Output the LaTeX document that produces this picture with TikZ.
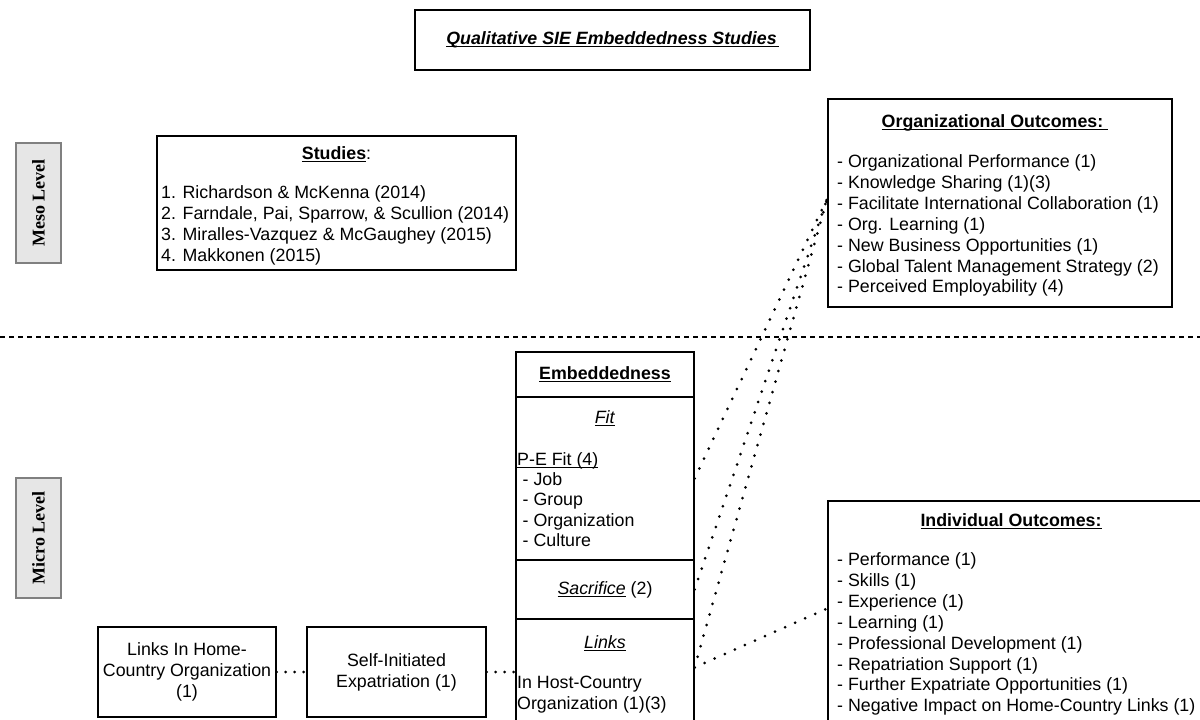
\documentclass[tikz,border=0pt]{standalone}
\usepackage{fontspec}
\setmainfont{Liberation Sans}
\newfontfamily\levelserif{Liberation Serif}
\usetikzlibrary{calc}
% underline at a fixed depth below the baseline
\newsavebox{\undlbox}
\newcommand{\undl}[1]{\sbox{\undlbox}{#1}\rlap{\rule[-2.6pt]{\wd\undlbox}{1.1pt}}\usebox{\undlbox}}
\definecolor{lvlfill}{HTML}{E6E6E6}
\definecolor{lvldraw}{HTML}{808080}
\begin{document}
\begin{tikzpicture}[x=1pt,y=-1pt,
  font=\fontsize{17.8}{20.9}\selectfont,
  box/.style={draw=black, line width=1.2pt, inner sep=0pt, rectangle},
  lvl/.style={draw=lvldraw, fill=lvlfill, line width=1.6pt, rotate=90,
    minimum width=120pt, minimum height=45pt, inner sep=0pt,
    font=\levelserif\fontsize{18}{20}\selectfont\bfseries},
  % multi-line lists: the base anchor sits on the last line
  lst/.style={anchor=base west, align=left, inner sep=0pt},
  hd/.style={anchor=base, inner sep=0pt},
  dotline/.style={line width=3pt, line cap=round, dash pattern=on 0pt off 11pt},
  shortdots/.style={dotline, dash pattern=on 0pt off 9pt},
  levelsep/.style={line width=1.1pt, dash pattern=on 5pt off 4pt}
]
\clip (0,0) rectangle (1200,720);

% heading
\node[box, minimum width=395pt, minimum height=60pt,
  font=\fontsize{17.8}{20.9}\selectfont\bfseries\itshape] (title) at (612.5,40)
  {\undl{Qualitative SIE Embeddedness Studies\hspace{2pt}}};

% level labels
\node[lvl] (meso) at (38.5,203) {Meso Level};
\node[lvl] (micro) at (38.5,538) {Micro Level};

% list of studies
\node[box, minimum width=359pt, minimum height=134pt] (studies) at (336.5,203) {};
\node[hd] (studies-hd) at (336.5,159) {\textbf{\undl{Studies}}:};
\node[lst] (studies-list) at (161,261.2) {1. Richardson \& McKenna (2014)\\
2. Farndale, Pai, Sparrow, \& Scullion (2014)\\
3. Miralles-Vazquez \& McGaughey (2015)\\
4. Makkonen (2015)};

% organizational outcomes
\node[box, minimum width=344pt, minimum height=208pt] (org) at (1000,203) {};
\node[hd] (org-hd) at (995,127) {\textbf{\undl{Organizational Outcomes:\hspace{5pt}}}};
\node[lst] (org-list) at (837,292.9) {- Organizational Performance (1)\\
- Knowledge Sharing (1)(3)\\
- Facilitate International Collaboration (1)\\
- Org. Learning (1)\\
- New Business Opportunities (1)\\
- Global Talent Management Strategy (2)\\
- Perceived Employability (4)};

% meso / micro divider
\draw[levelsep] (0,337) -- (1200,337);

% embeddedness column
\node[box, minimum width=178pt, minimum height=45pt] (emb-head) at (605,374.5)
  {\textbf{\undl{Embeddedness}}};
\node[box, minimum width=178pt, minimum height=163pt] (emb-fit) at (605,478.5) {};
\node[box, minimum width=178pt, minimum height=59pt] (emb-sac) at (605,589.5)
  {\undl{\textit{Sacrifice}} (2)};
\node[box, minimum width=178pt, minimum height=141pt] (emb-links) at (605,689.5) {};
\node[hd] (fit-hd) at (605,423) {\undl{\textit{Fit}}};
\node[lst, font=\fontsize{17.8}{20.4}\selectfont] (fit-list) at (517,546.6)
  {\undl{P-E Fit (4)}\\
\hspace*{5.5pt}- Job\\
\hspace*{5.5pt}- Group\\
\hspace*{5.5pt}- Organization\\
\hspace*{5.5pt}- Culture};
\node[hd] (links-hd) at (605,648) {\undl{\textit{Links}}};
\node[lst] (links-list) at (517,709.4) {In Host-Country\\Organization (1)(3)};

% individual outcomes
\node[box, minimum width=377pt, minimum height=239pt] (indiv) at (1016.5,620.5) {};
\node[hd] (indiv-hd) at (1011,526) {\textbf{\undl{Individual Outcomes:}}};
\node[lst] (indiv-list) at (837,711.8) {- Performance (1)\\
- Skills (1)\\
- Experience (1)\\
- Learning (1)\\
- Professional Development (1)\\
- Repatriation Support (1)\\
- Further Expatriate Opportunities (1)\\
- Negative Impact on Home-Country Links (1)};

% home-country links and self-initiated expatriation
\node[box, minimum width=178pt, minimum height=90pt, align=center] (home) at (187,672)
  {Links In Home-\\Country Organization\\(1)};
\node[box, minimum width=179pt, minimum height=90pt, align=center] (self) at (396.5,672)
  {Self-Initiated\\Expatriation (1)};

% connectors
\coordinate (links-pt) at ($(emb-links.north east)+(0,49)$);
\coordinate (org-pt) at ($(org.west)+(0,-5)$);
\coordinate (ind-pt) at ($(indiv.north west)+(0,108)$);
\draw[shortdots] (home.east) -- (self.west);
\draw[shortdots] (self.east) -- (self.east -| emb-links.west);
\draw[dotline] (emb-fit.east) -- (org-pt);
\draw[dotline] (emb-sac.east) -- (org-pt);
\draw[dotline] (links-pt) -- (org-pt);
\draw[dotline] (links-pt) -- (ind-pt);
\end{tikzpicture}
\end{document}
